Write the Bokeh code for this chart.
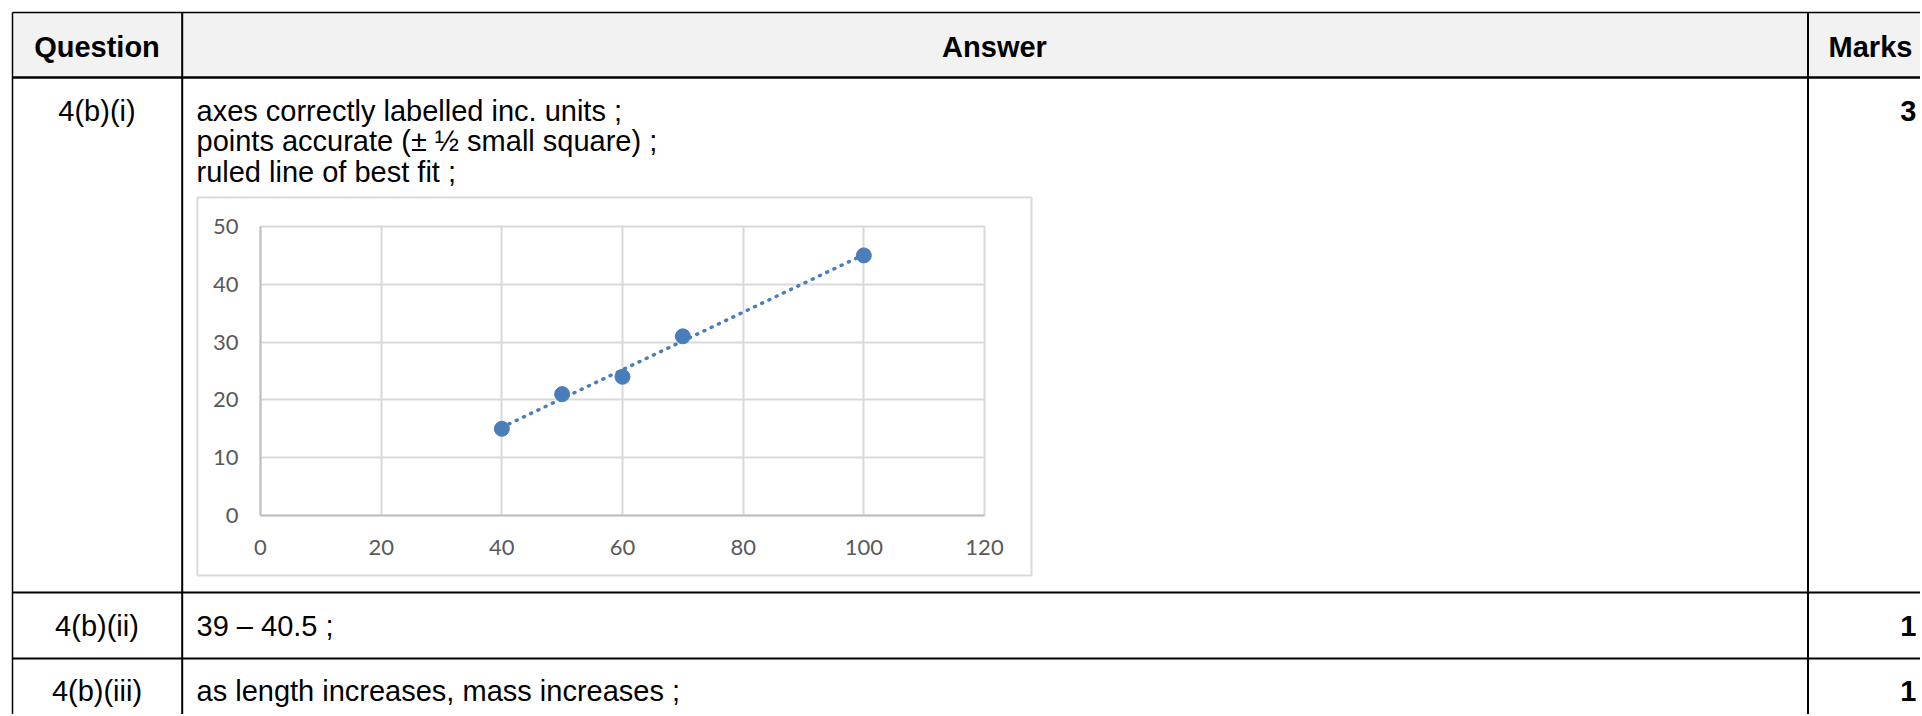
import numpy as np
from bokeh.plotting import figure
from bokeh.models import Range1d, GridBox, FixedTicker
from bokeh.embed import file_html
from bokeh.resources import INLINE
from bokeh.core.properties import value

# ---------------- data ----------------
lengths = [40, 50, 60, 70, 100]
masses = [15, 21, 24, 31, 45]
x_ticks = [0, 20, 40, 60, 80, 100, 120]
y_ticks = [0, 10, 20, 30, 40, 50]

headers = ["Question", "Answer", "Marks"]
questions = ["4(b)(i)", "4(b)(ii)", "4(b)(iii)"]
answer_lines_row1 = ["axes correctly labelled inc. units ;",
                     "points accurate (\u00b1 \u00bd small square) ;",
                     "ruled line of best fit ;"]
answer_row2 = ["39 \u2013 40.5 ;"]
answer_row3 = ["as length increases, mass increases ;"]
marks = ["3", "1", "1"]

BLUE = "#4a7ebb"
W, H = 1920, 714
FONT = value("Liberation Sans")

# ---------------- table (background) ----------------
t = figure(width=W, height=H, x_range=Range1d(0, W), y_range=Range1d(H, 0),
           x_axis_type=None, y_axis_type=None, toolbar_location=None,
           output_backend="svg", min_border=0, outline_line_color=None)
t.background_fill_color = "white"
t.border_fill_color = "white"

# header fill
t.quad(left=[12], right=[W], top=[12], bottom=[77], fill_color="#f2f2f2", line_color=None)

# horizontal rules
t.segment(x0=[12], y0=[12], x1=[W], y1=[12], line_color="black", line_width=1.5)
t.segment(x0=[12], y0=[77], x1=[W], y1=[77], line_color="black", line_width=2.5)
t.segment(x0=[12, 12], y0=[592, 658], x1=[W, W], y1=[592, 658], line_color="black", line_width=2)
# vertical rules
t.segment(x0=[12], y0=[12], x1=[12], y1=[H], line_color="black", line_width=1.5)
t.segment(x0=[181.7, 1807.5], y0=[12, 12], x1=[181.7, 1807.5], y1=[H, H], line_color="black", line_width=2)

# chart box border
t.quad(left=[197], right=[1031], top=[197], bottom=[575], fill_color=None,
       line_color="#d9d9d9", line_width=2)

# header texts
t.text(x=[96.5, 994, 1870], y=[46, 46, 46], text=headers, text_font=FONT,
       text_font_size="29px", text_font_style="bold", text_align="center",
       text_baseline="alphabetic", text_color="black")

# question column
t.text(x=[96.5, 96.5, 96.5], y=[110, 625, 690], text=questions, text_font=FONT,
       text_font_size="29px", text_align="center", text_baseline="alphabetic",
       text_color="black")

# answer column
ans_text = answer_lines_row1 + answer_row2 + answer_row3
t.text(x=[196] * 5, y=[110, 140.5, 171, 625, 690], text=ans_text, text_font=FONT,
       text_font_size="29px", text_align="left", text_baseline="alphabetic",
       text_color="black")

# marks column
t.text(x=[1916, 1916, 1916], y=[110, 625, 690], text=marks, text_font=FONT,
       text_font_size="29px", text_font_style="bold", text_align="right",
       text_baseline="alphabetic", text_color="black")

# ---------------- chart ----------------
c = figure(width=832, height=376, x_range=Range1d(0, 120), y_range=Range1d(0, 50),
           toolbar_location=None, output_backend="svg",
           min_border_left=62, min_border_right=46, min_border_top=28, min_border_bottom=59,
           outline_line_color="#d9d9d9", outline_line_width=2)
c.background_fill_color = "white"
c.border_fill_color = "white"
c.xaxis.ticker = FixedTicker(ticks=x_ticks)
c.yaxis.ticker = FixedTicker(ticks=y_ticks)
for ax in (c.xaxis, c.yaxis):
    ax.major_tick_line_color = None
    ax.minor_tick_line_color = None
    ax.major_tick_out = 0
    ax.major_tick_in = 0
    ax.minor_tick_out = 0
    ax.axis_line_color = "#bfbfbf"
    ax.axis_line_width = 2
    ax.major_label_text_font = "Lato"
    ax.major_label_text_font_size = "22px"
    ax.major_label_text_color = "#595959"
c.xaxis.major_label_standoff = 24
c.yaxis.major_label_standoff = 22
c.grid.grid_line_color = "#d9d9d9"
c.grid.grid_line_width = 2

coef = np.polyfit(lengths, masses, 1)
fit_x = [min(lengths), max(lengths)]
fit_y = list(np.polyval(coef, fit_x))
c.line(fit_x, fit_y, line_color=BLUE, line_width=3.5, line_dash="1 7", line_cap="round")
c.scatter(lengths, masses, size=15, fill_color=BLUE, line_color=BLUE)

grid = GridBox(children=[(t, 0, 0, 3, 3), (c, 1, 1, 1, 1)],
               rows=["198px", "376px", "140px"], cols=["198px", "832px", "890px"],
               spacing=0)

open("out.html", "w").write(file_html(grid, INLINE))
